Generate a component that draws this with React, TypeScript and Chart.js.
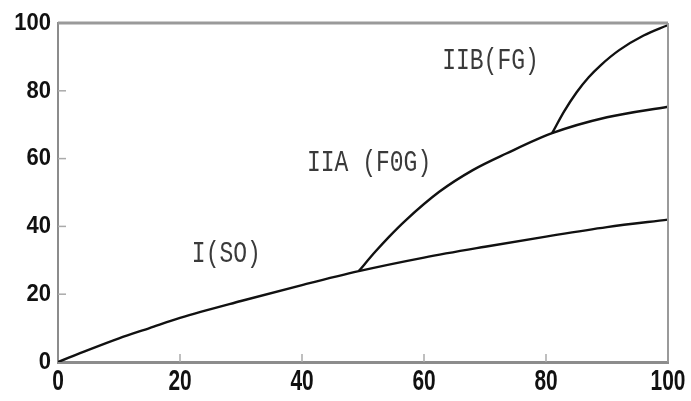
import React, { useEffect, useRef } from "react";
import { Chart, registerables } from "chart.js";

Chart.register(...registerables);

// Curve I (SO): spans the whole range
const xSO = [0, 5, 10, 15, 20, 30, 40, 49.3, 60, 70, 80, 90, 100];
const ySO = [0, 3.6, 7, 10, 13, 18, 22.7, 26.8, 30.8, 34, 37, 39.8, 42];

// Curve IIA (F0G): branches off curve I
const xFOG = [49.3, 52, 54.3, 57, 62.5, 68, 73.5, 81, 90, 100];
const yFOG = [26.8, 32.5, 37, 41.8, 50.2, 56.6, 61.5, 67.5, 72.2, 75.3];

// Curve IIB (FG): branches off curve IIA
const xFG = [81, 83, 85, 87, 89, 92, 96, 100];
const yFG = [67.5, 74, 79.5, 84, 87.6, 92, 96.3, 99.4];

const tickValues = [0, 20, 40, 60, 80, 100];

// Curve labels, anchored in data units
const labelText = ["I(SO)", "IIA (F0G)", "IIB(FG)"];
const labelX = [27.6, 51, 70.9];
const labelY = [31.6, 58.7, 88.8];

const pts = (xs: number[], ys: number[]) => xs.map((x, i) => ({ x, y: ys[i] }));

const tickFont = "bold 22px 'Liberation Sans', Arial, sans-serif";

const framePlugin = {
  id: "frame",
  afterDraw(chart: any) {
    const { ctx, chartArea: a, scales } = chart;
    const xs = scales.x;
    const ys = scales.y;
    ctx.save();
    // top and right frame
    ctx.strokeStyle = "#9a9a9a";
    ctx.lineWidth = 3;
    ctx.beginPath();
    ctx.moveTo(a.left, a.top);
    ctx.lineTo(a.right, a.top);
    ctx.stroke();
    ctx.lineWidth = 2;
    ctx.beginPath();
    ctx.moveTo(a.right, a.top);
    ctx.lineTo(a.right, a.bottom);
    ctx.stroke();
    // inward tick marks
    ctx.strokeStyle = "#aaaaaa";
    ctx.lineWidth = 1.5;
    tickValues.forEach((v) => {
      if (v > 0 && v < 100) {
        const px = xs.getPixelForValue(v);
        ctx.beginPath();
        ctx.moveTo(px, a.bottom);
        ctx.lineTo(px, a.bottom - 8);
        ctx.stroke();
        const py = ys.getPixelForValue(v);
        ctx.beginPath();
        ctx.moveTo(a.left, py);
        ctx.lineTo(a.left + 8, py);
        ctx.stroke();
      }
    });
    // tick labels (tall, condensed digits)
    ctx.fillStyle = "#111111";
    ctx.font = tickFont;
    tickValues.forEach((v) => {
      const py = ys.getPixelForValue(v);
      ctx.save();
      ctx.textAlign = "right";
      ctx.textBaseline = "middle";
      ctx.translate(a.left - 7, py);
      ctx.scale(1, 1.12);
      ctx.fillText(String(v), 0, 0);
      ctx.restore();

      const px = xs.getPixelForValue(v);
      ctx.save();
      ctx.textAlign = "center";
      ctx.textBaseline = "top";
      ctx.translate(px, a.bottom + 6);
      ctx.scale(0.95, 1.3);
      ctx.fillText(String(v), 0, 0);
      ctx.restore();
    });
    // curve labels
    ctx.fillStyle = "#3a3a3a";
    ctx.font = "23px 'Liberation Mono', monospace";
    ctx.textAlign = "center";
    ctx.textBaseline = "middle";
    labelText.forEach((t, i) => {
      const px = xs.getPixelForValue(labelX[i]);
      const py = ys.getPixelForValue(labelY[i]);
      ctx.save();
      ctx.translate(px, py);
      ctx.scale(1, 1.25);
      ctx.fillText(t, 0, 0);
      ctx.restore();
    });
    ctx.restore();
  },
};

export default function App() {
  const ref = useRef<HTMLCanvasElement | null>(null);

  useEffect(() => {
    if (!ref.current) return;
    const line = { borderColor: "#111111", borderWidth: 2.4, pointRadius: 0, cubicInterpolationMode: "monotone" as const, fill: false };
    const chart = new Chart(ref.current, {
      type: "line",
      data: {
        datasets: [
          { label: labelText[0], data: pts(xSO, ySO), ...line },
          { label: labelText[1], data: pts(xFOG, yFOG), ...line },
          { label: labelText[2], data: pts(xFG, yFG), ...line },
        ],
      },
      options: {
        animation: false,
        responsive: false,
        devicePixelRatio: 1,
        layout: { padding: { left: 0, top: 23, right: 23, bottom: 0 } },
        plugins: { legend: { display: false }, tooltip: { enabled: false } },
        scales: {
          x: {
            type: "linear",
            min: 0,
            max: 100,
            afterFit: (s: any) => { s.height = 39; },
            afterBuildTicks: (s: any) => { s.ticks = tickValues.map((v) => ({ value: v })); },
            grid: { display: false },
            border: { display: true, color: "#8c8c8c", width: 3 },
            ticks: { display: false },
          },
          y: {
            type: "linear",
            min: 0,
            max: 100,
            afterFit: (s: any) => { s.width = 58; },
            afterBuildTicks: (s: any) => { s.ticks = tickValues.map((v) => ({ value: v })); },
            grid: { display: false },
            border: { display: true, color: "#8c8c8c", width: 2 },
            ticks: { display: false },
          },
        },
      },
      plugins: [framePlugin],
    });
    return () => chart.destroy();
  }, []);

  return (
    <div style={{ position: "fixed", left: 0, top: 0, width: 691, height: 401, background: "#fff" }}>
      <canvas ref={ref} width={691} height={401} style={{ width: 691, height: 401, display: "block" }} />
    </div>
  );
}
